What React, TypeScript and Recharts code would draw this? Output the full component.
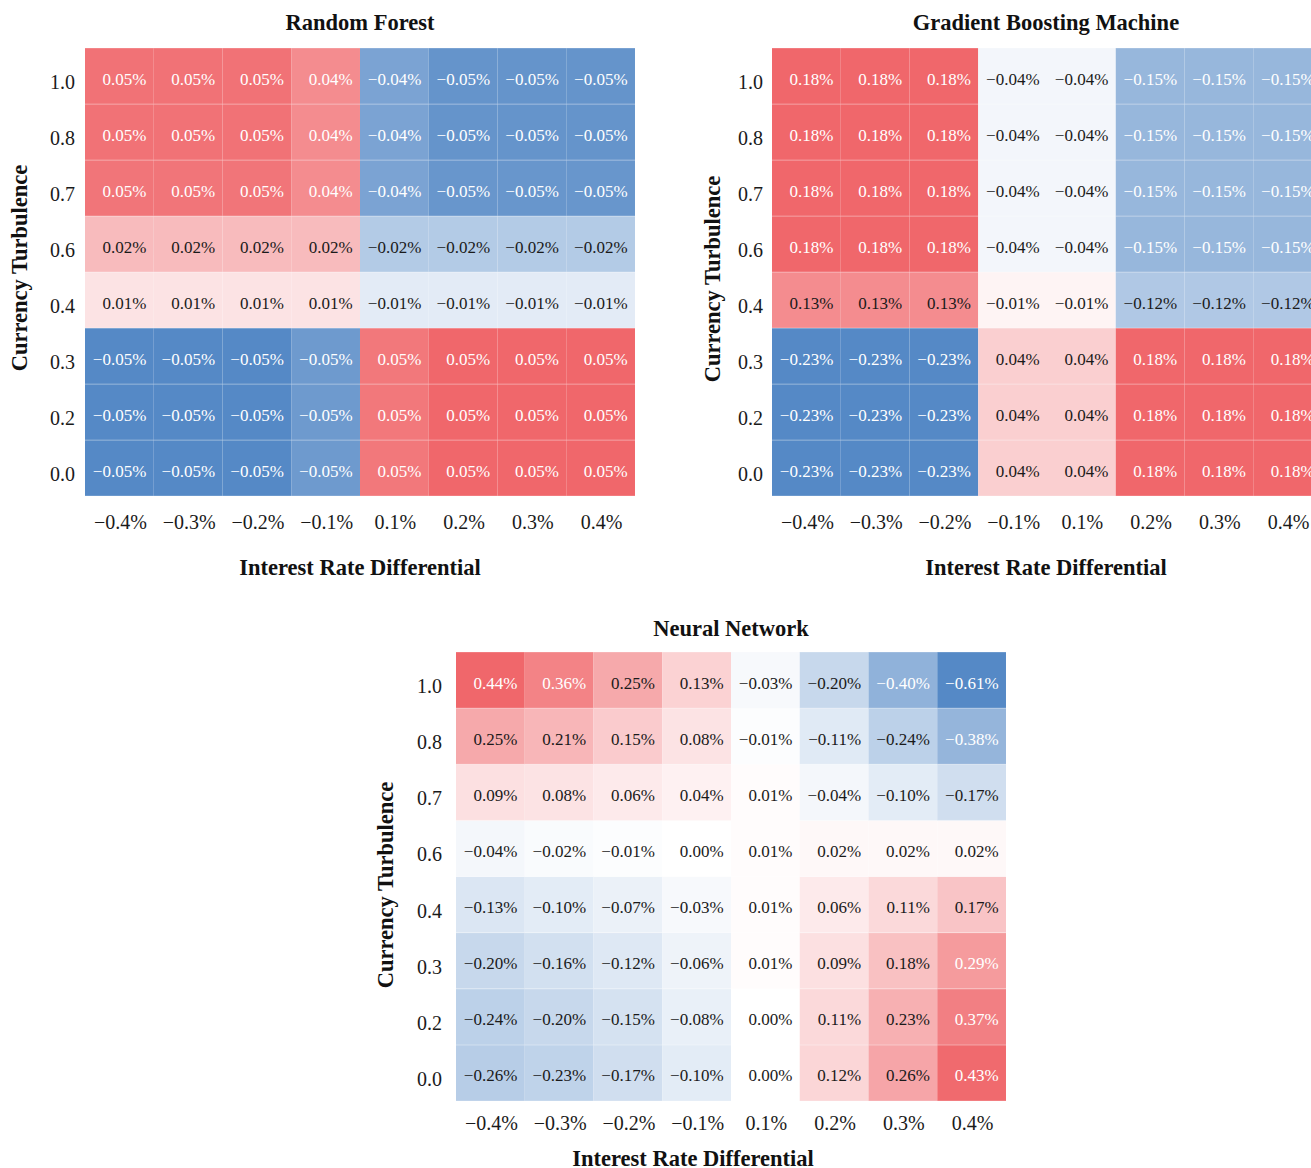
import React from "react";
import { BarChart, Bar, XAxis, YAxis, Cell, LabelList } from "recharts";

const FONT = "'Liberation Serif', 'Times New Roman', Times, serif";

// columns: interest rate differential, rows: currency turbulence (top to bottom)
const colLabels = ["−0.4%", "−0.3%", "−0.2%", "−0.1%", "0.1%", "0.2%", "0.3%", "0.4%"];
const rowLabels = ["1.0", "0.8", "0.7", "0.6", "0.4", "0.3", "0.2", "0.0"];

const rfValues = [
  [0.05, 0.05, 0.05, 0.041, -0.042, -0.049, -0.049, -0.049],
  [0.05, 0.05, 0.05, 0.041, -0.042, -0.049, -0.049, -0.049],
  [0.049, 0.049, 0.049, 0.041, -0.042, -0.048, -0.048, -0.048],
  [0.024, 0.024, 0.024, 0.024, -0.024, -0.024, -0.024, -0.024],
  [0.01, 0.01, 0.01, 0.01, -0.009, -0.009, -0.009, -0.009],
  [-0.054, -0.054, -0.054, -0.046, 0.048, 0.054, 0.054, 0.054],
  [-0.054, -0.054, -0.054, -0.046, 0.048, 0.054, 0.054, 0.054],
  [-0.054, -0.054, -0.054, -0.046, 0.048, 0.054, 0.054, 0.054],
];

const gbmValues = [
  [0.18, 0.18, 0.18, -0.04, -0.04, -0.15, -0.15, -0.15],
  [0.18, 0.18, 0.18, -0.04, -0.04, -0.15, -0.15, -0.15],
  [0.18, 0.18, 0.18, -0.04, -0.04, -0.15, -0.15, -0.15],
  [0.18, 0.18, 0.18, -0.04, -0.04, -0.15, -0.15, -0.15],
  [0.13, 0.13, 0.13, -0.01, -0.01, -0.12, -0.12, -0.12],
  [-0.23, -0.23, -0.23, 0.04, 0.04, 0.18, 0.18, 0.18],
  [-0.23, -0.23, -0.23, 0.04, 0.04, 0.18, 0.18, 0.18],
  [-0.23, -0.23, -0.23, 0.04, 0.04, 0.18, 0.18, 0.18],
];

const nnValues = [
  [0.44, 0.36, 0.25, 0.13, -0.03, -0.2, -0.4, -0.61],
  [0.25, 0.21, 0.15, 0.08, -0.01, -0.11, -0.24, -0.38],
  [0.09, 0.08, 0.06, 0.04, 0.01, -0.04, -0.1, -0.17],
  [-0.04, -0.02, -0.01, 0.0, 0.01, 0.02, 0.02, 0.02],
  [-0.13, -0.1, -0.07, -0.03, 0.01, 0.06, 0.11, 0.17],
  [-0.2, -0.16, -0.12, -0.06, 0.01, 0.09, 0.18, 0.29],
  [-0.24, -0.2, -0.15, -0.08, 0.0, 0.11, 0.23, 0.37],
  [-0.26, -0.23, -0.17, -0.1, 0.0, 0.12, 0.26, 0.43],
];

const RED = [240, 103, 107];
const BLUE = [85, 137, 198];

type Norm = { vmin: number; vmax: number; center: number };

function cellColor(v: number, n: Norm) {
  let t: number;
  let end: number[];
  if (v >= n.center) {
    t = Math.min(1, (v - n.center) / (n.vmax - n.center));
    end = RED;
  } else {
    t = Math.min(1, (n.center - v) / (n.center - n.vmin));
    end = BLUE;
  }
  const c = end.map((e) => Math.round(255 + (e - 255) * t));
  return `rgb(${c[0]},${c[1]},${c[2]})`;
}

function fmt(v: number) {
  const s = Math.abs(v).toFixed(2) + "%";
  return v < 0 && s !== "0.00%" ? "−" + s : s;
}

const rowsBottomUp = [0, 1, 2, 3, 4, 5, 6, 7];
const yTicks = [0.5, 1.5, 2.5, 3.5, 4.5, 5.5, 6.5, 7.5];

type HeatProps = {
  values: number[][];
  norm: Norm;
  cut: number;
  x: number;
  y: number;
  w: number;
  h: number;
  yGap: number;
  xBase: number;
};

function Heatmap({ values, norm, cut, x, y, w, h, yGap, xBase }: HeatProps) {
  const table = colLabels.map((lab, c) => {
    const d: Record<string, any> = { x: lab };
    rowsBottomUp.forEach((k) => {
      d["r" + k] = 1;
      d["v" + k] = values[7 - k][c];
    });
    return d;
  });
  const ML = 90;
  const MT = 10;
  const XH = 60;
  const bw = w / 8 - 0.01;
  const bh = h / 8;
  return (
    <div style={{ position: "absolute", left: x - ML, top: y - MT }}>
      <BarChart
        width={w + ML + 4}
        height={h + MT + XH}
        data={table}
        margin={{ top: MT, right: 4, left: 0, bottom: 0 }}
        barCategoryGap="0%"
        barGap={0}
      >
        <XAxis
          dataKey="x"
          type="category"
          height={XH}
          axisLine={false}
          tickLine={false}
          tickSize={0}
          tickMargin={0}
          interval={0}
          tick={(p: any) => (
            <text
              x={p.x + 1}
              y={p.y + xBase}
              textAnchor="middle"
              fontFamily={FONT}
              fontSize={20}
              fill="#1a1a1a"
            >
              {p.payload.value}
            </text>
          )}
        />
        <YAxis
          type="number"
          domain={[0, 8]}
          ticks={yTicks}
          width={ML}
          axisLine={false}
          tickLine={false}
          tickSize={0}
          tickMargin={0}
          interval={0}
          tick={(p: any) => (
            <text
              x={p.x - yGap}
              y={p.y + 13}
              textAnchor="end"
              fontFamily={FONT}
              fontSize={20}
              fill="#1a1a1a"
            >
              {rowLabels[7 - Math.floor(p.payload.value)]}
            </text>
          )}
        />
        {rowsBottomUp.map((k) => (
          <Bar
            key={k}
            dataKey={"r" + k}
            stackId="s"
            barSize={bw}
            isAnimationActive={false}
          >
            {table.map((d, c) => (
              <Cell
                key={c}
                fill={cellColor(d["v" + k], norm)}
                stroke="rgba(255,255,255,0.28)"
                strokeWidth={1}
                strokeDasharray={`${bw} ${bh}`}
              />
            ))}
            <LabelList
              dataKey={"v" + k}
              content={(p: any) => {
                const v = Number(p.value);
                const cx = Number(p.x) + Number(p.width) / 2;
                const cy = Number(p.y) + Number(p.height) / 2;
                return (
                  <text
                    x={cx + 27}
                    y={cy + 8.5}
                    textAnchor="end"
                    fontFamily={FONT}
                    fontSize={17}
                    fill={Math.abs(v) > cut ? "#ffffff" : "#1a1a1a"}
                  >
                    {fmt(v)}
                  </text>
                );
              }}
            />
          </Bar>
        ))}
      </BarChart>
    </div>
  );
}

const titles = [
  { t: "Random Forest", x: 360, y: 30 },
  { t: "Gradient Boosting Machine", x: 1046, y: 30 },
  { t: "Neural Network", x: 731, y: 636 },
];
const xLabels = [
  { x: 360, y: 575 },
  { x: 1046, y: 575 },
  { x: 693, y: 1166 },
];
const yLabels = [
  { x: 27, y: 268 },
  { x: 720, y: 279 },
  { x: 393, y: 885 },
];

export default function App() {
  return (
    <div
      style={{
        position: "absolute",
        left: 0,
        top: 0,
        width: 1311,
        height: 1168,
        overflow: "hidden",
        background: "#fff",
      }}
    >
      <Heatmap
        values={rfValues}
        norm={{ vmin: -0.054, vmax: 0.054, center: 0 }}
        cut={0.03}
        x={85}
        y={48}
        w={550}
        h={448}
        yGap={10}
        xBase={33}
      />
      <Heatmap
        values={gbmValues}
        norm={{ vmin: -0.23, vmax: 0.18, center: -0.025 }}
        cut={0.14}
        x={772}
        y={48}
        w={550}
        h={448}
        yGap={9}
        xBase={33}
      />
      <Heatmap
        values={nnValues}
        norm={{ vmin: -0.61, vmax: 0.44, center: 0 }}
        cut={0.28}
        x={456}
        y={652}
        w={550}
        h={449}
        yGap={14}
        xBase={29}
      />
      <svg
        width={1311}
        height={1168}
        style={{ position: "absolute", left: 0, top: 0, pointerEvents: "none" }}
      >
        {titles.map((d) => (
          <text
            key={d.t}
            x={d.x}
            y={d.y}
            textAnchor="middle"
            fontFamily={FONT}
            fontWeight="bold"
            fontSize={22.5}
            fill="#111"
          >
            {d.t}
          </text>
        ))}
        {xLabels.map((d, i) => (
          <text
            key={"x" + i}
            x={d.x}
            y={d.y}
            textAnchor="middle"
            fontFamily={FONT}
            fontWeight="bold"
            fontSize={22.5}
            fill="#111"
          >
            Interest Rate Differential
          </text>
        ))}
        {yLabels.map((d, i) => (
          <text
            key={"y" + i}
            x={d.x}
            y={d.y}
            transform={`rotate(-90 ${d.x} ${d.y})`}
            textAnchor="middle"
            fontFamily={FONT}
            fontWeight="bold"
            fontSize={22.5}
            fill="#111"
          >
            Currency Turbulence
          </text>
        ))}
      </svg>
    </div>
  );
}
